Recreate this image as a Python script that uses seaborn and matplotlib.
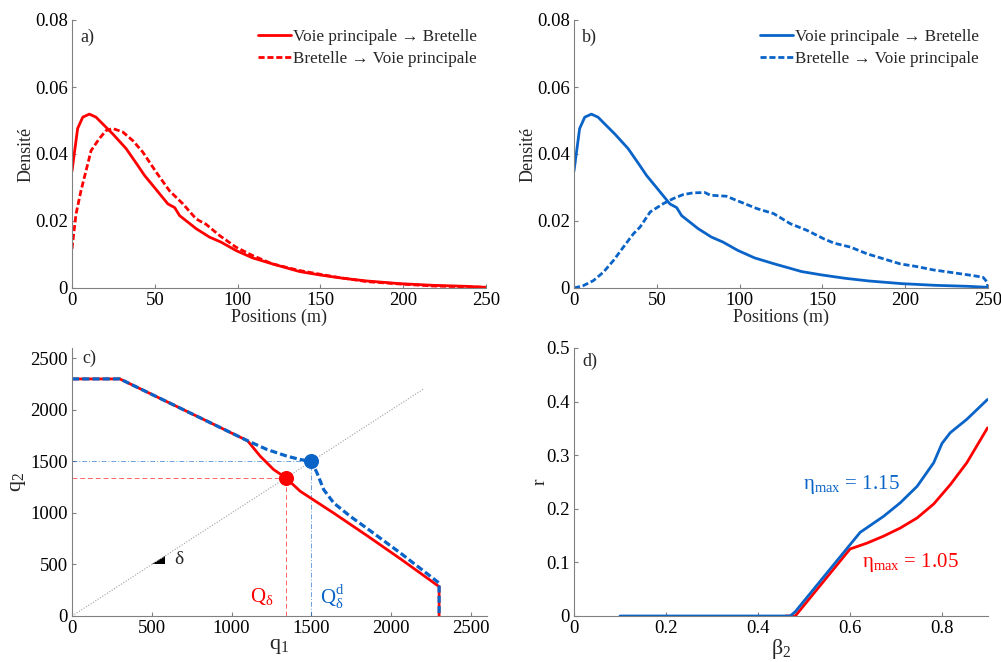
import numpy as np
import pandas as pd
import matplotlib
matplotlib.use("Agg")
import matplotlib.pyplot as plt
import seaborn as sns

# --- data ---
pos_main = [0, 3.4, 6.5, 10.5, 14.5, 18.5, 24.6, 32.7, 39.7, 43.8, 49.8, 57.9, 62, 65, 75, 83, 90, 99,
            109, 121, 137.5, 149.6, 163.7, 178, 198, 218, 238, 250]
dens_main = [0.0349, 0.0476, 0.051, 0.0519, 0.051, 0.049, 0.046, 0.0416, 0.0366, 0.0336, 0.030, 0.0251,
             0.024, 0.0216, 0.0177, 0.0152, 0.0137, 0.0112, 0.009, 0.0072, 0.0049, 0.0039, 0.0029,
             0.0021, 0.0013, 0.0008, 0.0005, 0.0002]

pos_ramp_a = [0, 2.4, 5.4, 9.5, 11.5, 16.5, 20.6, 24.6, 30.6, 36.7, 42.7, 50.8, 58.9, 67, 75, 81, 89,
              99, 109, 121, 137.5, 157.7, 178, 198, 218, 250]
dens_ramp_a = [0.0117, 0.022, 0.029, 0.037, 0.041, 0.0446, 0.047, 0.0476, 0.0466, 0.044, 0.0406,
               0.0346, 0.029, 0.0251, 0.0206, 0.019, 0.0157, 0.0122, 0.0097, 0.0072, 0.0052, 0.0034,
               0.0019, 0.0012, 0.0006, 0.0002]

pos_ramp_b = [0, 5.6, 11.7, 17.7, 23.8, 29.8, 35.9, 39.9, 46, 54, 60, 66, 72, 79, 82.3, 92, 100.4,
              110.5, 120.6, 130.6, 140.7, 150.8, 157, 167, 177, 187, 197, 207, 217, 227, 241, 247,
              249.6, 250]
dens_ramp_b = [0, 0.0007, 0.0022, 0.0047, 0.0082, 0.0122, 0.0162, 0.0182, 0.0227, 0.0252, 0.0267,
               0.0279, 0.0284, 0.0285, 0.0277, 0.0274, 0.0257, 0.0237, 0.0222, 0.0192, 0.0172,
               0.0147, 0.0134, 0.0122, 0.0102, 0.0087, 0.0072, 0.0064, 0.0054, 0.0047, 0.0037,
               0.0032, 0.0017, 0]

# panel c: supply curves
q1_red = [0, 300, 1100, 1179, 1263, 1340, 1430, 1640, 1850, 2060, 2300, 2300]
q2_red = [2300, 2300, 1700, 1551, 1421, 1340, 1210, 998, 778, 552, 285, 0]
q1_blue = [0, 300, 1100, 1221, 1346, 1430, 1500, 1535, 1577, 1640, 1745, 1850, 2060, 2300, 2300]
q2_blue = [2300, 2300, 1700, 1616, 1551, 1518, 1500, 1388, 1226, 1096, 965, 848, 608, 320, 0]
q_delta, q_delta_d = 1340, 1500
diag_end = 2200

# panel d
beta_blue = [0.1, 0.47, 0.481, 0.622, 0.673, 0.709, 0.746, 0.782, 0.8, 0.818, 0.854, 0.899]
r_blue = [0, 0, 0.008, 0.156, 0.186, 0.211, 0.242, 0.286, 0.322, 0.342, 0.367, 0.404]
beta_red = [0.46, 0.481, 0.6, 0.637, 0.673, 0.709, 0.746, 0.782, 0.818, 0.854, 0.899]
r_red = [0, 0, 0.125, 0.136, 0.149, 0.164, 0.183, 0.209, 0.245, 0.286, 0.351]

RED = "#ff0000"
BLUE = "#0a64c8"

sns.set_style("ticks")
plt.rcParams['font.family'] = ['Liberation Serif', 'DejaVu Serif']
plt.rcParams['mathtext.fontset'] = 'custom'
plt.rcParams['mathtext.rm'] = 'Liberation Serif'
plt.rcParams['mathtext.it'] = 'Liberation Serif:italic'
plt.rcParams['font.size'] = 13
plt.rcParams['axes.edgecolor'] = '#808080'
plt.rcParams['xtick.direction'] = 'in'
plt.rcParams['ytick.direction'] = 'in'
plt.rcParams['xtick.color'] = '#808080'
plt.rcParams['ytick.color'] = '#808080'
plt.rcParams['xtick.labelcolor'] = 'black'
plt.rcParams['ytick.labelcolor'] = 'black'

fig = plt.figure(figsize=(10.01, 6.62), dpi=100)
W, H = 1001, 662
def box(l, t, r, b):
    return [l / W, 1 - b / H, (r - l) / W, (b - t) / H]

ax_a = fig.add_axes(box(72, 20, 486, 288))
ax_b = fig.add_axes(box(574, 20, 988, 288))
ax_c = fig.add_axes(box(72, 348, 487, 616))
ax_d = fig.add_axes(box(574, 348, 988, 616))

lw = 2.0
dash = (0, (2.2, 1.0))
TICK = 13.5

# --- a) and b) ---
for ax, col, xr, yr, tag in [(ax_a, RED, pos_ramp_a, dens_ramp_a, 'a)'),
                             (ax_b, BLUE, pos_ramp_b, dens_ramp_b, 'b)')]:
    sns.lineplot(x=pos_main, y=dens_main, ax=ax, color=col, lw=lw,
                 label='Voie principale \u2192 Bretelle')
    sns.lineplot(x=xr, y=yr, ax=ax, color=col, lw=lw, linestyle=dash,
                 label='Bretelle \u2192 Voie principale')
    ax.set_xlim(0, 250)
    ax.set_ylim(0, 0.08)
    ax.set_xticks([0, 50, 100, 150, 200, 250])
    ax.set_yticks([0, 0.02, 0.04, 0.06, 0.08])
    ax.set_yticklabels(['0', '0.02', '0.04', '0.06', '0.08'])
    ax.set_xlabel('Positions (m)', fontsize=13, labelpad=0)
    ax.set_ylabel('Densité', fontsize=13, labelpad=0)
    ax.text(0.02, 0.935, tag, transform=ax.transAxes, fontsize=13, va='center')
    ax.legend(loc='upper right', frameon=False, fontsize=12.3, handlelength=1.9,
              handletextpad=0.1, borderaxespad=0.15, labelspacing=0.3)

# --- c) ---
ax_c.plot([0, diag_end], [0, diag_end], color='#a0a0a0', lw=0.8, linestyle=(0, (1, 1.5)))
ax_c.plot([0, q_delta], [q_delta, q_delta], color=RED, lw=0.7, alpha=0.6, linestyle=(0, (5, 3)))
ax_c.plot([q_delta, q_delta], [0, q_delta], color=RED, lw=0.7, alpha=0.6, linestyle=(0, (5, 3)))
ax_c.plot([0, q_delta_d], [q_delta_d, q_delta_d], color=BLUE, lw=0.7, alpha=0.6,
          linestyle=(0, (5, 2, 1, 2)))
ax_c.plot([q_delta_d, q_delta_d], [0, q_delta_d], color=BLUE, lw=0.7, alpha=0.6,
          linestyle=(0, (5, 2, 1, 2)))
sns.lineplot(x=q1_red, y=q2_red, ax=ax_c, color=RED, lw=lw, sort=False, estimator=None)
sns.lineplot(x=q1_blue, y=q2_blue, ax=ax_c, color=BLUE, lw=lw + 0.3, linestyle=dash,
             sort=False, estimator=None)
sns.scatterplot(x=[q_delta], y=[q_delta], ax=ax_c, color=RED, s=100, edgecolor=RED, zorder=5)
sns.scatterplot(x=[q_delta_d], y=[q_delta_d], ax=ax_c, color=BLUE, s=100, edgecolor=BLUE, zorder=5)
ax_c.fill([500, 580, 580], [500, 500, 580], color='black', lw=0)
ax_c.text(640, 545, 'δ', fontsize=14, va='center')
ax_c.text(1265, 185, r'$\mathrm{Q}_{\mathrm{δ}}$', color=RED, fontsize=15, ha='right', va='center')
ax_c.text(1555, 185, r'$\mathrm{Q}_{\mathrm{δ}}^{\mathrm{d}}$', color=BLUE, fontsize=15,
          ha='left', va='center')
ax_c.set_xlim(0, 2600)
ax_c.set_ylim(0, 2600)
ax_c.set_xticks([0, 500, 1000, 1500, 2000, 2500])
ax_c.set_yticks([0, 500, 1000, 1500, 2000, 2500])
ax_c.set_xlabel(r'$\mathrm{q}_1$', fontsize=16, labelpad=0)
ax_c.set_ylabel(r'$\mathrm{q}_2$', fontsize=16, labelpad=2)
ax_c.text(0.025, 0.96, 'c)', transform=ax_c.transAxes, fontsize=13, va='center')

# --- d) ---
sns.lineplot(x=beta_red, y=r_red, ax=ax_d, color=RED, lw=lw)
sns.lineplot(x=beta_blue, y=r_blue, ax=ax_d, color=BLUE, lw=lw)
ax_d.text(0.497, 0.245, r'$\mathrm{η}_{\mathrm{max}}$ = 1.15', color=BLUE, fontsize=15,
          va='center')
ax_d.text(0.627, 0.10, r'$\mathrm{η}_{\mathrm{max}}$ = 1.05', color=RED, fontsize=15,
          va='center')
ax_d.set_xlim(0, 0.9)
ax_d.set_ylim(0, 0.5)
ax_d.set_xticks([0, 0.2, 0.4, 0.6, 0.8])
ax_d.set_xticklabels(['0', '0.2', '0.4', '0.6', '0.8'])
ax_d.set_yticks([0, 0.1, 0.2, 0.3, 0.4, 0.5])
ax_d.set_yticklabels(['0', '0.1', '0.2', '0.3', '0.4', '0.5'])
ax_d.set_xlabel(r'$\mathrm{β}_2$', fontsize=16, labelpad=0)
ax_d.set_ylabel('r', fontsize=14, labelpad=-2)
ax_d.text(0.02, 0.95, 'd)', transform=ax_d.transAxes, fontsize=13, va='center')

for ax in [ax_a, ax_b, ax_c, ax_d]:
    sns.despine(ax=ax)
    ax.tick_params(labelsize=TICK, length=3, width=0.8, pad=3)
    for s in ['left', 'bottom']:
        ax.spines[s].set_linewidth(0.8)

fig.savefig('out.png', dpi=100)
